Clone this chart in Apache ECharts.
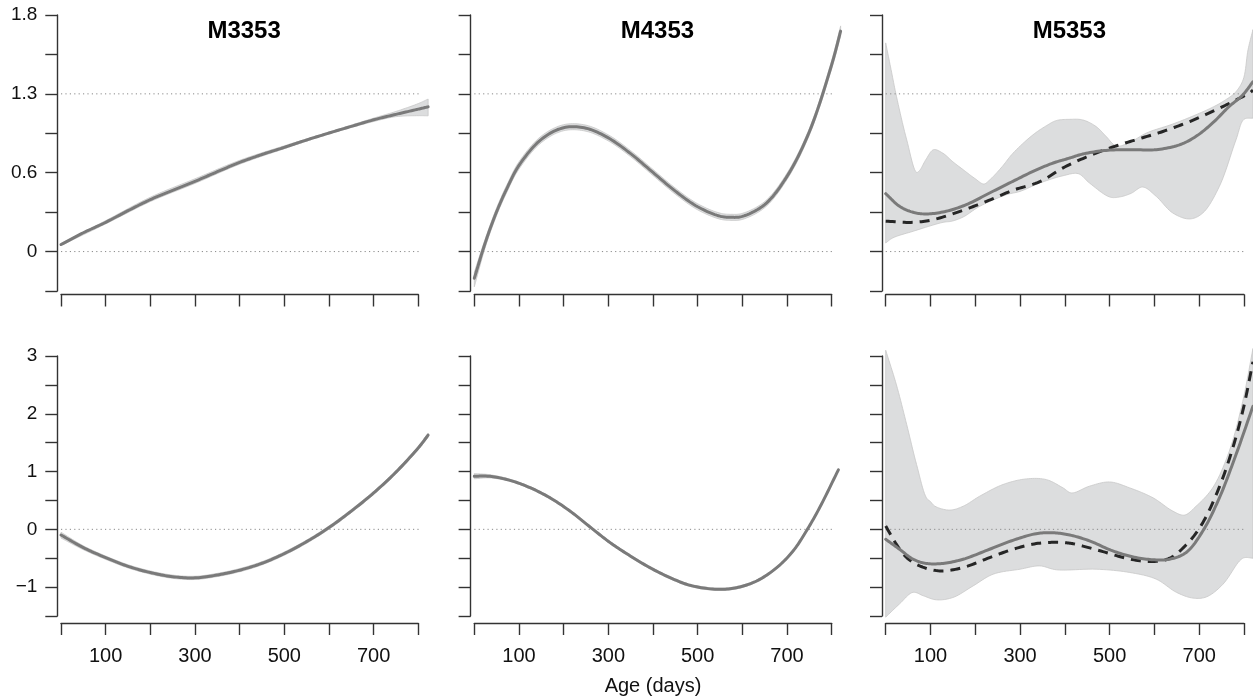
<!DOCTYPE html>
<html><head><meta charset="utf-8">
<script src="https://cdn.jsdelivr.net/npm/echarts@6/dist/echarts.min.js"></script>
<style>html,body{margin:0;padding:0;background:#fff}#c{width:1253px;height:699px}</style>
</head><body><div id="c"></div>
<script>
// ---------------- data ----------------
const panelTitles = ['M3353', 'M4353', 'M5353'];
const xAxisTitle = 'Age (days)';
const xTickLabels = [100, 300, 500, 700];
const topYTicks = [0, 0.65, 1.3, 1.95];
const topYLabels = ['0', '0.6', '1.3', '1.8'];
const bottomYTicks = [-1, 0, 1, 2, 3];
const bottomYLabels = ['\u22121', '0', '1', '2', '3'];
const topRefLines = [0, 1.3];
const bottomRefLines = [0];

// Row 1, M3353
const m3353TopFit = [[0,0.058],[50,0.155],[100,0.241],[150,0.337],[200,0.428],[250,0.505],[300,0.579],[350,0.658],[400,0.735],[450,0.80],[500,0.859],[550,0.92],[600,0.977],[650,1.032],[700,1.086],[750,1.131],[800,1.174],[822,1.193]];
const m3353TopUpper = [[0,0.066],[100,0.255],[200,0.448],[300,0.60],[400,0.752],[500,0.872],[600,0.985],[700,1.10],[750,1.155],[800,1.22],[822,1.257]];
const m3353TopLower = [[0,0.05],[100,0.228],[200,0.412],[300,0.562],[400,0.72],[500,0.848],[600,0.969],[700,1.072],[750,1.112],[800,1.12],[822,1.119]];

// Row 1, M4353
const m4353TopFit = [[0,-0.22],[25,0.078],[50,0.329],[75,0.536],[100,0.71],[150,0.925],[200,1.021],[250,1.017],[300,0.937],[350,0.807],[400,0.652],[450,0.498],[500,0.369],[550,0.292],[577,0.282],[600,0.29],[650,0.387],[700,0.62],[750,0.988],[800,1.541],[820,1.817]];
const m4353TopUpper = [[0,-0.17],[25,0.11],[50,0.36],[75,0.566],[100,0.74],[150,0.952],[200,1.046],[250,1.042],[300,0.962],[350,0.832],[400,0.677],[450,0.523],[500,0.394],[550,0.317],[577,0.307],[600,0.315],[650,0.412],[700,0.646],[750,1.015],[800,1.575],[820,1.86]];
const m4353TopLower = [[0,-0.29],[25,0.04],[50,0.298],[75,0.506],[100,0.68],[150,0.898],[200,0.996],[250,0.992],[300,0.912],[350,0.782],[400,0.627],[450,0.473],[500,0.344],[550,0.267],[577,0.257],[600,0.265],[650,0.362],[700,0.594],[750,0.96],[800,1.507],[820,1.775]];

// Row 1, M5353
const m5353TopFit = [[0,0.477],[31,0.373],[61,0.324],[91,0.31],[135,0.332],[180,0.387],[232,0.483],[284,0.579],[329,0.661],[374,0.73],[411,0.771],[440,0.804],[492,0.834],[545,0.84],[604,0.84],[656,0.88],[693,0.95],[730,1.06],[767,1.196],[797,1.29],[820,1.40]];
const m5353TopAlt = [[0,0.25],[61,0.241],[106,0.263],[166,0.332],[225,0.414],[284,0.505],[344,0.576],[396,0.69],[455,0.79],[507,0.862],[559,0.922],[619,0.99],[679,1.072],[738,1.169],[783,1.251],[812,1.306],[820,1.33]];
const m5353TopUpper = [[0,1.72],[12,1.50],[24,1.28],[47,0.92],[69,0.653],[76,0.67],[90,0.76],[107,0.84],[128,0.81],[150,0.74],[173,0.675],[200,0.60],[219,0.557],[232,0.59],[260,0.70],[284,0.81],[329,0.963],[360,1.04],[381,1.08],[411,1.09],[440,1.085],[470,1.03],[492,0.95],[515,0.87],[545,0.90],[582,0.977],[640,1.05],[693,1.128],[730,1.19],[753,1.237],[780,1.31],[798,1.416],[809,1.663],[820,1.83]];
const m5353TopLower = [[0,0.071],[16,0.113],[61,0.167],[128,0.241],[147,0.25],[173,0.285],[210,0.373],[270,0.469],[300,0.496],[344,0.565],[396,0.625],[430,0.642],[455,0.565],[500,0.45],[522,0.45],[548,0.48],[574,0.532],[604,0.455],[641,0.318],[679,0.269],[708,0.318],[745,0.537],[782,0.92],[800,1.09],[820,1.10]];

// Row 2, M3353
const m3353BotFit = [[0,-0.098],[50,-0.317],[100,-0.49],[150,-0.64],[200,-0.748],[250,-0.82],[300,-0.84],[350,-0.79],[400,-0.707],[450,-0.587],[500,-0.42],[550,-0.213],[600,0.03],[650,0.316],[700,0.63],[750,0.99],[800,1.41],[822,1.63]];
const m3353BotUpper = [[0,-0.05],[50,-0.285],[100,-0.462],[150,-0.612],[200,-0.72],[250,-0.792],[300,-0.812],[350,-0.762],[400,-0.679],[450,-0.559],[500,-0.392],[550,-0.185],[600,0.058],[650,0.344],[700,0.658],[750,1.018],[800,1.44],[822,1.665]];
const m3353BotLower = [[0,-0.15],[50,-0.352],[100,-0.52],[150,-0.668],[200,-0.776],[250,-0.848],[300,-0.868],[350,-0.818],[400,-0.735],[450,-0.615],[500,-0.448],[550,-0.241],[600,0.002],[650,0.288],[700,0.602],[750,0.962],[800,1.38],[822,1.595]];

// Row 2, M4353
const m4353BotFit = [[0,0.92],[35,0.917],[80,0.848],[125,0.72],[169,0.548],[214,0.317],[263,0.017],[304,-0.23],[349,-0.46],[393,-0.663],[438,-0.836],[483,-0.969],[543,-1.038],[587,-1.01],[632,-0.894],[677,-0.663],[714,-0.37],[744,-0.02],[774,0.39],[815,1.03]];
const m4353BotUpper = [[0,0.965],[35,0.945],[80,0.868],[125,0.74],[169,0.568],[214,0.337],[263,0.037],[304,-0.21],[349,-0.44],[393,-0.643],[438,-0.816],[483,-0.949],[543,-1.018],[587,-0.99],[632,-0.874],[677,-0.643],[714,-0.35],[744,0.0],[774,0.41],[815,1.05]];
const m4353BotLower = [[0,0.875],[35,0.89],[80,0.828],[125,0.70],[169,0.528],[214,0.297],[263,-0.003],[304,-0.25],[349,-0.48],[393,-0.683],[438,-0.856],[483,-0.989],[543,-1.058],[587,-1.03],[632,-0.914],[677,-0.683],[714,-0.39],[744,-0.04],[774,0.37],[815,1.01]];

// Row 2, M5353
const m5353BotFit = [[0,-0.172],[31,-0.345],[61,-0.517],[91,-0.59],[128,-0.59],[173,-0.517],[232,-0.345],[284,-0.19],[336,-0.075],[374,-0.06],[411,-0.098],[455,-0.2],[507,-0.374],[559,-0.489],[604,-0.529],[634,-0.517],[671,-0.40],[708,-0.03],[745,0.545],[782,1.29],[820,2.13]];
const m5353BotAlt = [[0,0.057],[24,-0.26],[47,-0.49],[76,-0.633],[121,-0.72],[173,-0.66],[232,-0.49],[284,-0.345],[336,-0.247],[381,-0.224],[411,-0.24],[433,-0.276],[485,-0.385],[537,-0.50],[589,-0.558],[634,-0.50],[679,-0.2],[708,0.115],[738,0.60],[768,1.235],[797,2.04],[820,2.90]];
const m5353BotUpper = [[0,3.10],[24,2.5],[47,1.81],[69,1.12],[91,0.545],[100,0.48],[110,0.40],[143,0.333],[173,0.40],[210,0.574],[262,0.776],[314,0.873],[359,0.86],[396,0.717],[415,0.63],[455,0.747],[500,0.82],[545,0.717],[597,0.545],[641,0.316],[667,0.246],[693,0.40],[730,0.717],[767,1.35],[797,2.21],[820,3.13]];
const m5353BotLower = [[0,-1.52],[31,-1.29],[61,-1.09],[84,-1.15],[113,-1.22],[150,-1.18],[195,-0.98],[240,-0.776],[300,-0.69],[344,-0.633],[381,-0.70],[470,-0.69],[545,-0.747],[604,-0.862],[649,-1.09],[686,-1.19],[716,-1.17],[753,-0.95],[790,-0.547],[801,-0.49],[820,-0.50]];

// ---------------- layout / style ----------------
const FONT = '"Liberation Sans", Arial, Helvetica, sans-serif';
const colLeft = [61, 474.3, 885.7];
const colWidth = [357.3, 357.4, 358.3];
const rowTop = [15, 356];
const rowHeight = [276, 260];
const xAxisOffset = [3.5, 7];
const yAxisOffset = 3.7;
const axisColor = '#333';
const fitColor = '#7a7a7a';
const altColor = '#262626';
const bandFill = '#dcddde';
const bandStroke = '#c8c8c8';
const refColor = '#8a8a8a';

const panels = [
  {row:0,col:0,fit:m3353TopFit,upper:m3353TopUpper,lower:m3353TopLower},
  {row:0,col:1,fit:m4353TopFit,upper:m4353TopUpper,lower:m4353TopLower},
  {row:0,col:2,fit:m5353TopFit,alt:m5353TopAlt,upper:m5353TopUpper,lower:m5353TopLower},
  {row:1,col:0,fit:m3353BotFit,upper:m3353BotUpper,lower:m3353BotLower},
  {row:1,col:1,fit:m4353BotFit,upper:m4353BotUpper,lower:m4353BotLower},
  {row:1,col:2,fit:m5353BotFit,alt:m5353BotAlt,upper:m5353BotUpper,lower:m5353BotLower}
];

function matchLabel(v, ticks, labels) {
  for (let i = 0; i < ticks.length; i++) if (Math.abs(v - ticks[i]) < 1e-6) return labels[i];
  return '';
}

// centripetal Catmull-Rom through pixel points (rendering only)
function spline(P, steps) {
  const n = P.length;
  if (n < 3) return P.slice();
  const ext = [[2 * P[0][0] - P[1][0], 2 * P[0][1] - P[1][1]]].concat(P, [[2 * P[n - 1][0] - P[n - 2][0], 2 * P[n - 1][1] - P[n - 2][1]]]);
  const d = (a, b) => Math.max(Math.sqrt(Math.hypot(b[0] - a[0], b[1] - a[1])), 1e-4);
  const out = [];
  for (let i = 1; i < ext.length - 2; i++) {
    const p0 = ext[i - 1], p1 = ext[i], p2 = ext[i + 1], p3 = ext[i + 2];
    const t0 = 0, t1 = t0 + d(p0, p1), t2 = t1 + d(p1, p2), t3 = t2 + d(p2, p3);
    for (let s = 0; s < steps; s++) {
      const t = t1 + (t2 - t1) * s / steps;
      const L = (a, b, ta, tb) => [((tb - t) * a[0] + (t - ta) * b[0]) / (tb - ta), ((tb - t) * a[1] + (t - ta) * b[1]) / (tb - ta)];
      const A1 = L(p0, p1, t0, t1), A2 = L(p1, p2, t1, t2), A3 = L(p2, p3, t2, t3);
      const B1 = L(A1, A2, t0, t2), B2 = L(A2, A3, t1, t3);
      out.push(L(B1, B2, t1, t2));
    }
  }
  out.push(P[n - 1]);
  return out;
}

function curveSeries(gi, data, style, z) {
  return {
    type: 'custom', coordinateSystem: 'cartesian2d', xAxisIndex: gi, yAxisIndex: gi,
    data: data, encode: {x: 0, y: 1}, silent: true, z: z, clip: false,
    renderItem: (params, api) => {
      if (params.dataIndex !== 0) return null;
      return {type: 'polyline', shape: {points: spline(data.map(q => api.coord(q)), 12)}, style: style};
    }
  };
}

const grid = [], xAxis = [], yAxis = [], series = [], graphic = [];
panels.forEach((p, gi) => {
  const top = p.row === 0;
  grid.push({left: colLeft[p.col], top: rowTop[p.row], width: colWidth[p.col], height: rowHeight[p.row], containLabel: false});
  xAxis.push({
    gridIndex: gi, type: 'value', min: 0, max: 800, interval: 100, position: 'bottom', offset: xAxisOffset[p.row],
    axisLine: {show: true, onZero: false, lineStyle: {color: axisColor, width: 1.4}},
    axisTick: {show: true, length: 12, inside: false, lineStyle: {color: axisColor, width: 1.4}},
    axisLabel: {show: !top, margin: 23, fontSize: 20, fontFamily: FONT, color: '#111',
      formatter: v => xTickLabels.indexOf(v) >= 0 ? String(v) : ''},
    splitLine: {show: false}
  });
  yAxis.push({
    gridIndex: gi, type: 'value', position: 'left', offset: yAxisOffset,
    min: top ? -0.325 : -1.5, max: top ? 1.95 : 3, interval: top ? 0.325 : 0.5,
    axisLine: {show: true, onZero: false, lineStyle: {color: axisColor, width: 1.4}},
    axisTick: {show: true, length: 12, inside: false, lineStyle: {color: axisColor, width: 1.4}},
    axisLabel: {show: p.col === 0, margin: 20, fontSize: 19, fontFamily: FONT, color: '#111',
      formatter: v => top ? matchLabel(v, topYTicks, topYLabels) : matchLabel(v, bottomYTicks, bottomYLabels)},
    splitLine: {show: false}
  });
  // confidence band
  series.push({
    type: 'custom', coordinateSystem: 'cartesian2d', xAxisIndex: gi, yAxisIndex: gi,
    data: p.upper.concat(p.lower), encode: {x: 0, y: 1}, silent: true, z: 1, clip: false,
    renderItem: (params, api) => {
      if (params.dataIndex !== 0) return null;
      const up = spline(p.upper.map(q => api.coord(q)), 10);
      const lo = spline(p.lower.map(q => api.coord(q)), 10).reverse();
      return {type: 'polygon', shape: {points: up.concat(lo)},
        style: {fill: bandFill, stroke: bandStroke, lineWidth: 0.8}};
    }
  });
  // dotted reference lines spanning the data range
  const xs = p.fit.map(d => d[0]);
  const xMin = Math.min.apply(null, xs), xMax = Math.max.apply(null, xs);
  (top ? topRefLines : bottomRefLines).forEach(r => {
    series.push({type: 'line', xAxisIndex: gi, yAxisIndex: gi, data: [[xMin, r], [xMax, r]],
      symbol: 'none', silent: true, clip: false, z: 2,
      lineStyle: {color: refColor, width: 1, type: [1.2, 3.2]}});
  });
  if (p.alt) series.push(curveSeries(gi, p.alt, {stroke: altColor, lineWidth: 3, lineDash: [10, 7], fill: null}, 3));
  series.push(curveSeries(gi, p.fit, {stroke: fitColor, lineWidth: 3, lineCap: 'round', fill: null}, 4));
  if (top) {
    graphic.push({type: 'text', x: colLeft[p.col] + colWidth[p.col] * 820 / 800 / 2, y: 31,
      style: {text: panelTitles[p.col], font: 'bold 24px ' + FONT, fill: '#000', textAlign: 'center', textVerticalAlign: 'middle'}});
  }
});
graphic.push({type: 'text', x: colLeft[1] + colWidth[1] / 2, y: 686,
  style: {text: xAxisTitle, font: '20px ' + FONT, fill: '#111', textAlign: 'center', textVerticalAlign: 'middle'}});

const chart = echarts.init(document.getElementById('c'), null, {renderer: 'canvas'});
chart.setOption({animation: false, backgroundColor: '#fff', grid, xAxis, yAxis, series, graphic});
</script></body></html>
